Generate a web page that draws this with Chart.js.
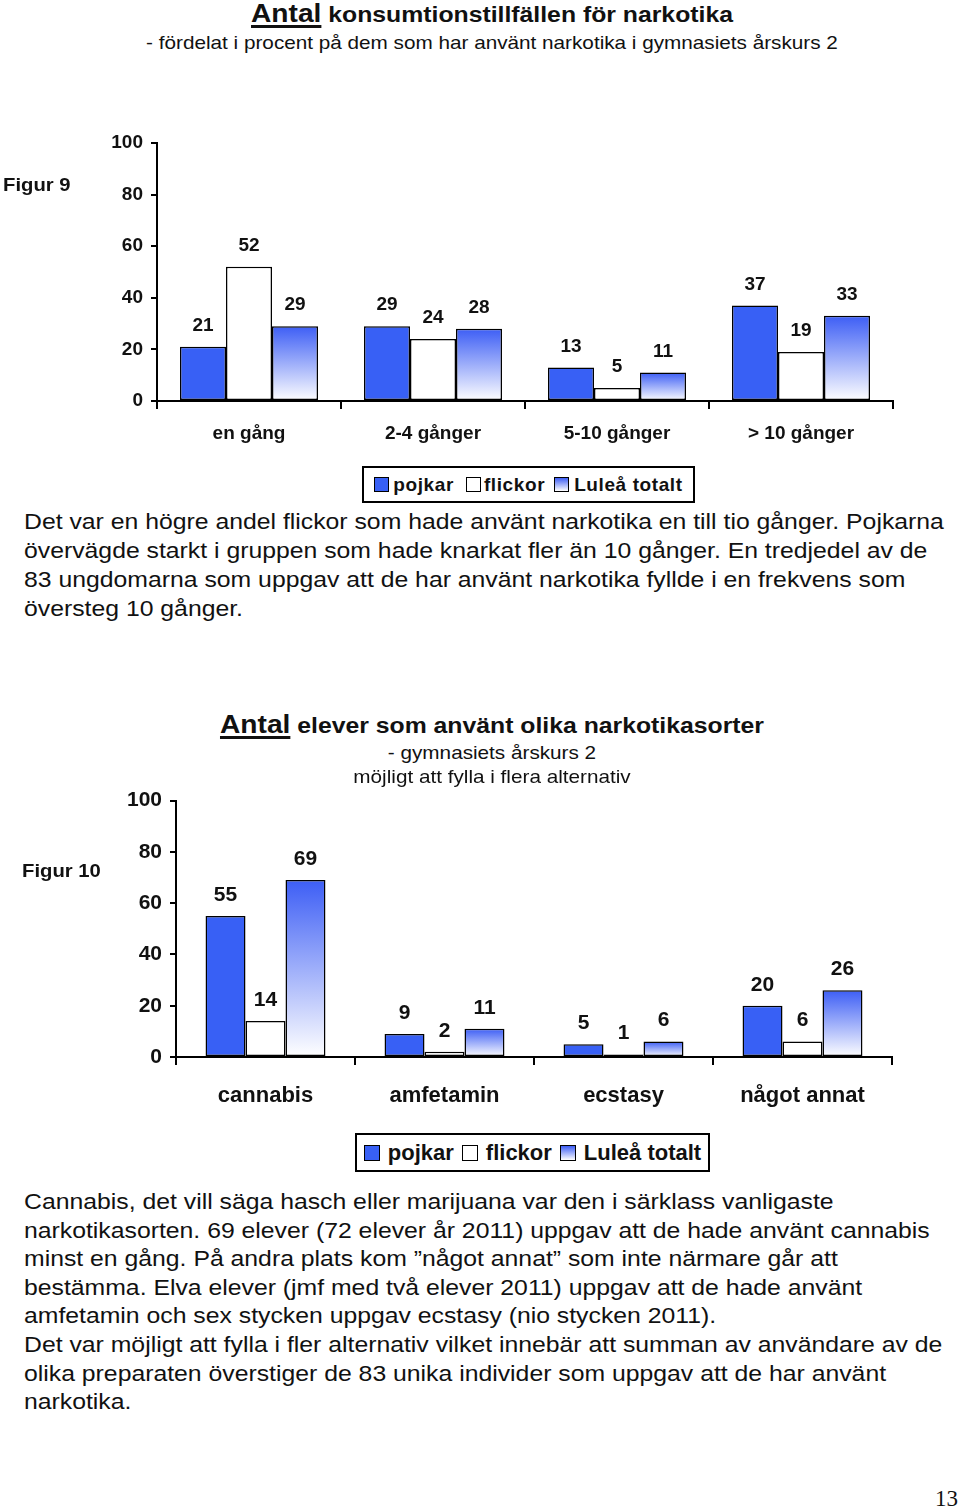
<!DOCTYPE html>
<html lang="sv">
<head>
<meta charset="utf-8">
<title>Antal konsumtionstillfällen för narkotika</title>
<script src="https://cdn.jsdelivr.net/npm/chart.js@4.4.1/dist/chart.umd.min.js"></script>
<style>
  html, body { margin: 0; padding: 0; background: #fff; }
  body { width: 960px; height: 1511px; position: relative; overflow: hidden;
         font-family: 'Liberation Sans', Arial, sans-serif; color: #111; }
  canvas { position: absolute; left: 0; }
  /* the source page is stretched a little horizontally */
  .abs { position: absolute; white-space: nowrap; z-index: 2; transform: scaleX(1.126); transform-origin: 0 0; }
  .ctr { position: absolute; left: 0; width: 984px; text-align: center; white-space: nowrap; z-index: 2;
         transform: scaleX(1.126); transform-origin: 492px 0; }
  .ttl { font-weight: bold; font-size: 22px; }
  .ttl u { font-size: 25px; text-decoration-thickness: 3px; text-underline-offset: 3px; }
  .sub { font-size: 18.4px; }
  .fig { font-weight: bold; font-size: 18px; }
  .legend { position: absolute; border: 2px solid #000; box-sizing: border-box; display: flex;
            align-items: center; justify-content: center; font-weight: bold; background: #fff; z-index: 2; }
  .legend span { display: inline-flex; align-items: center; }
  .sw { display: inline-block; border: 1px solid #000; box-sizing: border-box; }
  .grad { background: linear-gradient(#3d5ef5, #fff); }
  .para { left: 24px; font-size: 22px; }
</style>
</head>
<body>

<div class="ctr ttl" style="top:-1px;"><u>Antal</u> konsumtionstillfällen för narkotika</div>
<div class="ctr sub" style="top:32px;">- fördelat i procent på dem som har använt narkotika i gymnasiets årskurs 2</div>
<div class="abs fig" style="left:3px; top:175px;">Figur 9</div>

<canvas id="chart1" width="960" height="330" style="top:120px;"></canvas>

<div class="legend" style="left:362px; top:466px; width:333px; height:37px; font-size:19px; letter-spacing:0.6px;">
  <span><i class="sw" style="width:15px;height:15px;background:#3860f5;margin-right:4px;"></i>pojkar</span>
  <span style="margin-left:12px;"><i class="sw" style="width:15px;height:15px;background:#fff;margin-right:3px;"></i>flickor</span>
  <span style="margin-left:9px;"><i class="sw grad" style="width:15px;height:15px;margin-right:5px;"></i>Luleå totalt</span>
</div>

<div class="abs para" style="top:507px; line-height:29px;">
Det var en högre andel flickor som hade använt narkotika en till tio gånger. Pojkarna<br>
övervägde starkt i gruppen som hade knarkat fler än 10 gånger. En tredjedel av de<br>
83 ungdomarna som uppgav att de har använt narkotika fyllde i en frekvens som<br>
översteg 10 gånger.
</div>

<div class="ctr ttl" style="top:710px;"><u>Antal</u> elever som använt olika narkotikasorter</div>
<div class="ctr sub" style="top:742px;">- gymnasiets årskurs 2</div>
<div class="ctr sub" style="top:766px;">möjligt att fylla i flera alternativ</div>
<div class="abs fig" style="left:22px; top:861px;">Figur 10</div>

<canvas id="chart2" width="960" height="330" style="top:780px;"></canvas>

<div class="legend" style="left:355px; top:1133px; width:355px; height:39px; font-size:22px;">
  <span><i class="sw" style="width:16px;height:16px;background:#3860f5;margin-right:8px;"></i>pojkar</span>
  <span style="margin-left:8px;"><i class="sw" style="width:16px;height:16px;background:#fff;margin-right:8px;"></i>flickor</span>
  <span style="margin-left:8px;"><i class="sw grad" style="width:16px;height:16px;margin-right:8px;"></i>Luleå totalt</span>
</div>

<div class="abs para" style="top:1188px; line-height:28.6px;">
Cannabis, det vill säga hasch eller marijuana var den i särklass vanligaste<br>
narkotikasorten. 69 elever (72 elever år 2011) uppgav att de hade använt cannabis<br>
minst en gång. På andra plats kom ”något annat” som inte närmare går att<br>
bestämma. Elva elever (jmf med två elever 2011) uppgav att de hade använt<br>
amfetamin och sex stycken uppgav ecstasy (nio stycken 2011).<br>
Det var möjligt att fylla i fler alternativ vilket innebär att summan av användare av de<br>
olika preparaten överstiger de 83 unika individer som uppgav att de har använt<br>
narkotika.
</div>

<div style="position:absolute; left:935px; top:1486px; font-size:23px; font-family:'Liberation Serif', serif;">13</div>

<script>
// ---------- Data ----------
const seriesNames = ['pojkar', 'flickor', 'Luleå totalt'];

// Figur 9: konsumtionstillfällen (%)
const freqCats = ['en gång', '2-4 gånger', '5-10 gånger', '> 10 gånger'];
const freqPojkar = [21, 29, 13, 37];
const freqFlickor = [52, 24, 5, 19];
const freqTotalt = [29, 28, 11, 33];

// Figur 10: narkotikasorter (antal elever)
const drugCats = ['cannabis', 'amfetamin', 'ecstasy', 'något annat'];
const drugPojkar = [55, 9, 5, 20];
const drugFlickor = [14, 2, 1, 6];
const drugTotalt = [69, 11, 6, 26];

const yMin = 0, yMax = 100, yStep = 20;

// ---------- Styles ----------
const BLUE = '#3860f5';
const FONT = "'Liberation Sans', Arial, sans-serif";

// per-bar vertical gradient: blue at the top, white at the base
function barGradient(c) {
  const chart = c.chart, y = chart.scales && chart.scales.y;
  if (!y || c.raw == null) return BLUE;
  const top = y.getPixelForValue(c.raw), base = y.getPixelForValue(0);
  if (!isFinite(top) || !isFinite(base) || top === base) return BLUE;
  const g = chart.ctx.createLinearGradient(0, top, 0, base);
  g.addColorStop(0, '#3d5ef5');
  g.addColorStop(1, '#ffffff');
  return g;
}

// value labels above each bar
const valueLabels = {
  id: 'valueLabels',
  afterDatasetsDraw(chart, args, opts) {
    const ctx = chart.ctx;
    ctx.save();
    ctx.font = `bold ${opts.size}px ${FONT}`;
    ctx.fillStyle = '#111';
    ctx.textAlign = 'center';
    ctx.textBaseline = 'middle';
    chart.data.datasets.forEach((ds, i) => {
      chart.getDatasetMeta(i).data.forEach((bar, j) => {
        ctx.fillText(ds.data[j], bar.x, bar.y - opts.offset);
      });
    });
    ctx.restore();
  },
};

function makeChart(id, cats, pojkar, flickor, totalt, L) {
  const bar = { borderColor: '#000', borderWidth: 1.5, borderSkipped: false,
                barPercentage: 1, categoryPercentage: L.catPct };
  const chart = new Chart(document.getElementById(id), {
    type: 'bar',
    data: {
      labels: cats,
      datasets: [
        { label: seriesNames[0], data: pojkar, backgroundColor: BLUE, ...bar },
        { label: seriesNames[1], data: flickor, backgroundColor: '#fff', ...bar },
        { label: seriesNames[2], data: totalt, backgroundColor: barGradient, ...bar },
      ],
    },
    plugins: [valueLabels],
    options: {
      responsive: false, animation: false, devicePixelRatio: 1,
      layout: { padding: { left: 0, right: L.right, top: L.top, bottom: 0 } },
      plugins: {
        legend: { display: false }, tooltip: { enabled: false },
        valueLabels: { size: L.valSize, offset: 21 },
      },
      scales: {
        x: {
          afterFit: (s) => { s.height = L.xHeight; },
          grid: { offset: true, drawOnChartArea: false, drawTicks: true, tickLength: 8, color: '#000', lineWidth: 2 },
          border: { color: '#000', width: 2 },
          ticks: { color: '#111', padding: L.xPad, font: { family: FONT, size: L.catSize, weight: 'bold' } },
        },
        y: {
          min: yMin, max: yMax,
          afterFit: (s) => { s.width = L.yWidth; },
          grid: { drawOnChartArea: false, drawTicks: true, tickLength: 6, color: '#000', lineWidth: 2 },
          border: { color: '#000', width: 2 },
          ticks: { stepSize: yStep, color: '#111', padding: 8, font: { family: FONT, size: L.tickSize, weight: 'bold' } },
        },
      },
    },
  });
  chart.update();
  return chart;
}

makeChart('chart1', freqCats, freqPojkar, freqFlickor, freqTotalt,
  { catPct: 0.75, right: 67, top: 23, xHeight: 49, yWidth: 157, xPad: 13, valSize: 19, catSize: 19, tickSize: 19 });

makeChart('chart2', drugCats, drugPojkar, drugFlickor, drugTotalt,
  { catPct: 0.67, right: 68, top: 15, xHeight: 53, yWidth: 176, xPad: 18, valSize: 21, catSize: 22, tickSize: 21 });
</script>
</body>
</html>
